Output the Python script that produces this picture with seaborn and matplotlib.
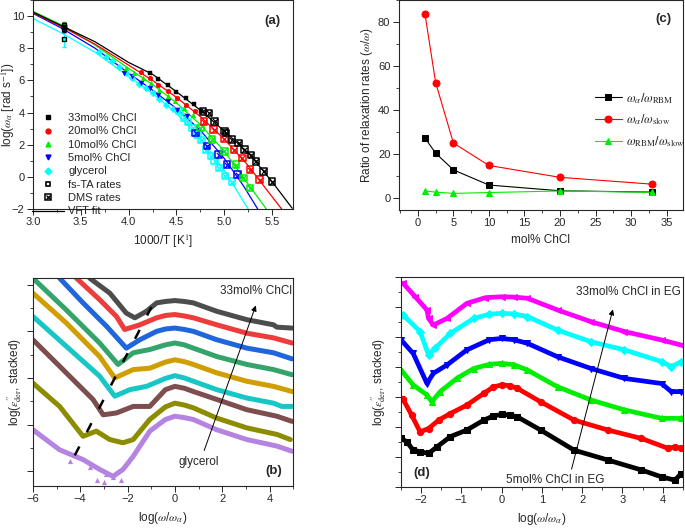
import seaborn as sns
import matplotlib.pyplot as plt
from matplotlib.lines import Line2D
from matplotlib.legend_handler import HandlerTuple
from matplotlib.ticker import MultipleLocator, NullFormatter

# ---------------- panel (a): log(omega_alpha) vs 1000/T ----------------
vft33_x = [3.0, 3.3, 3.65, 4.0, 4.25, 4.5, 4.75, 5.0, 5.25, 5.5, 5.71]
vft33_y = [10.25, 9.4, 8.4, 7.12, 6.38, 5.3, 4.15, 2.85, 1.5, -0.3, -1.95]
vft20_x = [3.0, 3.3, 3.65, 4.0, 4.25, 4.5, 4.75, 5.0, 5.25, 5.45, 5.6]
vft20_y = [10.2, 9.35, 8.25, 6.95, 6.0, 4.95, 3.75, 2.35, 0.7, -0.85, -2.0]
vft10_x = [3.0, 3.3, 3.65, 4.0, 4.25, 4.5, 4.75, 5.0, 5.25, 5.44]
vft10_y = [10.3, 9.45, 8.2, 6.75, 5.75, 4.6, 3.25, 1.6, -0.45, -2.0]
vft5_x = [3.0, 3.3, 3.65, 4.0, 4.25, 4.5, 4.75, 5.0, 5.2, 5.35]
vft5_y = [10.17, 9.25, 8.0, 6.45, 5.4, 4.25, 2.9, 1.15, -0.55, -2.0]
vftgly_x = [3.0, 3.3, 3.65, 4.0, 4.25, 4.5, 4.75, 5.0, 5.25]
vftgly_y = [9.85, 8.95, 7.75, 6.25, 5.2, 3.95, 2.4, 0.4, -2.0]

a33_x = [4.22, 4.31, 4.41, 4.50, 4.60, 4.68, 4.76]
a33_y = [6.47, 6.06, 5.70, 5.29, 4.92, 4.56, 4.08]
a20_x = [4.13, 4.22, 4.31, 4.41, 4.51, 4.60, 4.69]
a20_y = [6.53, 6.12, 5.74, 5.33, 4.92, 4.50, 4.08]
a10_x = [3.97, 4.06, 4.15, 4.23, 4.32, 4.41, 4.49, 4.58, 4.67]
a10_y = [6.78, 6.47, 6.16, 5.85, 5.43, 5.02, 4.71, 4.29, 3.88]
a5_x = [3.95, 4.04, 4.13, 4.22, 4.31, 4.41, 4.51, 4.61]
a5_y = [6.47, 6.26, 5.85, 5.54, 5.12, 4.71, 4.19, 3.77]
agly_x = [3.69, 3.76, 3.83, 3.90, 3.97, 4.04, 4.11, 4.18, 4.25, 4.32, 4.39, 4.46]
agly_y = [7.74, 7.45, 7.2, 6.85, 6.45, 6.15, 5.8, 5.5, 5.2, 4.85, 4.5, 4.2]

dms33_x = [4.78, 4.84, 4.90, 5.0, 5.02, 5.08, 5.15, 5.21, 5.28, 5.33, 5.41, 5.50]
dms33_y = [4.08, 3.98, 3.46, 2.84, 2.73, 2.32, 2.11, 1.70, 1.36, 0.97, 0.35, -0.3]
dms20_x = [4.79, 4.89, 5.0, 5.10, 5.19, 5.27, 5.37]
dms20_y = [3.43, 2.94, 2.36, 1.70, 1.18, 0.45, -0.17]
dms10_x = [4.75, 4.87, 5.0, 5.12, 5.20, 5.27]
dms10_y = [3.05, 2.32, 1.59, 0.76, -0.07, -0.69]
dms5_x = [4.70, 4.82, 4.94, 5.03, 5.14]
dms5_y = [2.74, 1.91, 1.39, 0.76, 0.14]
dmsgly_x = [4.53, 4.58, 4.62, 4.67, 4.72, 4.76, 4.81, 4.86, 4.90, 4.95, 5.01, 5.08]
dmsgly_y = [4.1, 3.7, 3.4, 3.05, 2.6, 2.3, 1.7, 1.3, 1.0, 0.55, 0.05, -0.3]

fs_x = [3.33, 3.33, 3.33, 3.33, 3.33]
fs_y = [9.3, 9.35, 9.45, 9.2, 8.6]
fs_err = [0.3, 0.2, 0.2, 0.2, 0.5]

# ---------------- panel (c): ratios ----------------
mol = [1, 2.5, 5, 10, 20, 33]
ratio_rbm = [27.3, 20.4, 12.8, 5.9, 3.3, 2.7]
ratio_slow = [83.7, 52.5, 25.0, 14.8, 9.4, 6.3]
ratio_rbm_slow = [3.2, 2.7, 2.1, 2.5, 3.2, 2.6]

# ---------------- panel (b): stacked spectra, glycerol mixtures ----------------
# top (33mol% ChCl) to bottom (glycerol)
b1_x = [-3.6, -2.75, -2.05, -1.69, -1.2, -0.77, -0.4, 0.0, 0.4, 0.78, 1.77, 3.04, 4.17, 4.31, 4.95]
b1_y = [4.14, 3.82, 3.39, 3.29, 3.43, 3.61, 3.64, 3.66, 3.64, 3.61, 3.43, 3.25, 3.14, 3.09, 3.07]
b2_x = [-4.16, -3.18, -2.47, -2.12, -1.48, -0.77, -0.4, 0.0, 0.4, 0.78, 1.77, 3.04, 4.17, 4.95]
b2_y = [4.14, 3.68, 3.32, 3.04, 3.14, 3.29, 3.34, 3.36, 3.33, 3.29, 3.14, 2.96, 2.86, 2.75]
b3_x = [-4.87, -3.88, -2.89, -2.05, -1.48, -0.77, -0.4, 0.0, 0.4, 0.78, 1.77, 3.04, 4.17, 4.95]
b3_y = [4.14, 3.61, 3.11, 2.64, 2.82, 3.0, 3.05, 3.07, 3.04, 3.0, 2.82, 2.64, 2.54, 2.41]
b4_x = [-6.0, -4.59, -3.18, -2.40, -1.76, -1.06, -0.4, 0.0, 0.4, 0.78, 1.77, 3.04, 4.17, 4.95]
b4_y = [4.14, 3.46, 2.75, 2.29, 2.54, 2.61, 2.71, 2.75, 2.71, 2.64, 2.46, 2.29, 2.18, 2.07]
b5_x = [-6.0, -4.59, -3.18, -2.54, -1.76, -1.06, -0.4, 0.0, 0.4, 0.78, 1.77, 3.04, 4.17, 4.95]
b5_y = [3.82, 3.18, 2.46, 2.0, 2.18, 2.21, 2.34, 2.39, 2.35, 2.29, 2.11, 1.93, 1.82, 1.71]
b6_x = [-6.0, -4.59, -3.18, -2.54, -1.90, -1.20, -0.4, 0.0, 0.4, 0.78, 1.77, 3.04, 4.17, 4.52, 4.95]
b6_y = [3.32, 2.68, 2.04, 1.61, 1.75, 1.82, 1.99, 2.05, 2.0, 1.93, 1.75, 1.57, 1.46, 1.39, 1.39]
b7_x = [-6.0, -4.59, -3.46, -3.03, -2.47, -1.76, -1.06, -0.4, 0.0, 0.4, 0.78, 1.77, 3.04, 4.31, 4.95]
b7_y = [2.82, 2.11, 1.54, 1.21, 1.25, 1.39, 1.39, 1.75, 1.82, 1.78, 1.71, 1.54, 1.32, 1.18, 1.07]
b8_x = [-6.0, -4.87, -3.88, -3.32, -2.75, -2.19, -1.76, -1.06, -0.4, 0.0, 0.4, 0.78, 1.77, 3.04, 4.31, 4.88]
b8_y = [1.89, 1.39, 0.75, 0.86, 0.68, 0.61, 0.68, 1.11, 1.38, 1.46, 1.42, 1.36, 1.14, 0.93, 0.79, 0.68]
b9_x = [-6.0, -4.87, -3.88, -3.18, -2.61, -2.19, -1.76, -1.06, -0.4, 0.0, 0.4, 0.78, 1.77, 3.04, 4.31, 4.95]
b9_y = [0.89, 0.46, 0.25, 0.04, -0.11, 0.04, 0.32, 0.86, 1.11, 1.18, 1.15, 1.11, 0.89, 0.68, 0.54, 0.43]
b9_noise_x = [-4.45, -3.6, -3.27, -2.9, -2.6, -2.26, -3.0]
b9_noise_y = [0.23, 0.1, -0.18, -0.05, -0.12, -0.18, -0.22]
b_colors = ['#4d4d4d', '#ee3b3b', '#1f66dd', '#35a46a', '#d09e00',
            '#18c6c6', '#7e4d4d', '#8c8c00', '#b584e0']
b_dash_x = [-4.23, -0.99]
b_dash_y = [0.34, 3.52]

# ---------------- panel (d): stacked spectra, EG mixtures ----------------
d1_x = [-2.49, -2.35, -2.19, -2.02, -1.81, -1.60, -1.27, -0.86, -0.44, -0.2, 0.0, 0.2, 0.39, 0.97, 1.80, 2.64, 3.47, 3.97, 4.30, 4.46]
d1_y = [1.61, 1.5, 1.22, 1.17, 1.11, 1.33, 1.67, 1.89, 2.22, 2.36, 2.41, 2.39, 2.33, 1.89, 1.22, 0.89, 0.56, 0.33, 0.22, 0.44]
d2_x = [-2.44, -2.23, -2.02, -1.81, -1.56, -1.27, -0.86, -0.44, -0.2, 0.0, 0.2, 0.39, 0.97, 1.80, 2.64, 3.47, 4.13, 4.30, 4.46]
d2_y = [2.91, 2.39, 1.83, 1.94, 2.22, 2.44, 2.72, 3.11, 3.33, 3.39, 3.37, 3.28, 2.83, 2.22, 1.89, 1.61, 1.28, 1.33, 1.28]
d3_x = [-2.49, -2.19, -1.85, -1.73, -1.52, -1.11, -0.69, -0.3, 0.0, 0.3, 0.64, 1.39, 2.22, 3.05, 3.97, 4.46]
d3_y = [3.89, 3.39, 3.06, 2.83, 3.17, 3.61, 3.94, 4.08, 4.11, 4.07, 3.89, 3.33, 2.89, 2.56, 2.28, 2.28]
d4_x = [-2.49, -2.19, -1.85, -1.69, -1.35, -0.86, -0.3, 0.0, 0.3, 0.64, 1.39, 2.22, 3.05, 3.97, 4.21, 4.46]
d4_y = [4.89, 4.44, 3.44, 3.78, 4.06, 4.56, 4.9, 4.94, 4.9, 4.78, 4.33, 3.94, 3.61, 3.44, 3.17, 3.17]
d5_x = [-2.44, -2.02, -1.81, -1.65, -1.27, -0.69, -0.3, 0.0, 0.3, 0.64, 1.39, 2.22, 3.05, 3.97, 4.21, 4.46]
d5_y = [5.72, 5.17, 4.39, 4.61, 5.11, 5.61, 5.75, 5.78, 5.76, 5.67, 5.22, 4.83, 4.56, 4.17, 4.0, 4.17]
d6_x = [-2.44, -2.14, -1.85, -1.81, -1.69, -1.35, -0.86, -0.4, 0.0, 0.3, 0.64, 1.39, 2.22, 3.05, 3.97, 4.46]
d6_y = [6.78, 6.33, 5.89, 5.61, 5.39, 5.61, 6.11, 6.3, 6.33, 6.32, 6.28, 5.89, 5.5, 5.17, 4.89, 4.72]
d_colors = ['#000000', '#ff0000', '#00ee00', '#0000ff', '#00ffff', '#ff00ff']
d_markers = ['s', 'o', '^', 'v', 'D', '<']

sns.set_style('ticks')
plt.rcParams['font.family'] = ['Liberation Sans', 'DejaVu Sans']
plt.rcParams['mathtext.fontset'] = 'stix'
plt.rcParams['font.size'] = 8
plt.rcParams['axes.linewidth'] = 0.8

fig = plt.figure(figsize=(6.85, 5.32), dpi=100)
ax_a = fig.add_axes([0.048, 0.607, 0.38, 0.393])
ax_c = fig.add_axes([0.582, 0.605, 0.415, 0.395])
ax_b = fig.add_axes([0.048, 0.087, 0.38, 0.391])
ax_d = fig.add_axes([0.585, 0.085, 0.412, 0.395])


def line(ax, x, y, **kw):
    sns.lineplot(x=x, y=y, ax=ax, sort=False, estimator=None, legend=False, **kw)


def style(ax, fs=8):
    for s in ax.spines.values():
        s.set_visible(True)
        s.set_linewidth(0.8)
    ax.tick_params(labelsize=fs, length=4, width=0.7, direction='out', pad=2)
    ax.tick_params(which='minor', length=2, width=0.6, direction='out')


# ---- (a)
cols_a = ['#000000', '#ff0000', '#00ee00', '#0000ff', '#00ffff']
mk_a = ['s', 'o', '^', 'v', 'D']
vx = [vft33_x, vft20_x, vft10_x, vft5_x, vftgly_x]
vy = [vft33_y, vft20_y, vft10_y, vft5_y, vftgly_y]
sx = [a33_x, a20_x, a10_x, a5_x, agly_x]
sy = [a33_y, a20_y, a10_y, a5_y, agly_y]
dx = [dms33_x, dms20_x, dms10_x, dms5_x, dmsgly_x]
dy = [dms33_y, dms20_y, dms10_y, dms5_y, dmsgly_y]
for i in range(5)[::-1]:
    line(ax_a, vx[i], vy[i], color=cols_a[i], lw=0.9)
    sns.scatterplot(x=sx[i], y=sy[i], ax=ax_a, marker=mk_a[i], color=cols_a[i], s=12,
                    edgecolor=cols_a[i], linewidth=0.3, legend=False, zorder=3)
    sns.scatterplot(x=dx[i], y=dy[i], ax=ax_a, marker='s', s=22, facecolor='none',
                    edgecolor=cols_a[i], linewidth=1.1, legend=False, zorder=3)
    sns.scatterplot(x=dx[i], y=dy[i], ax=ax_a, marker='x', s=14, color=cols_a[i],
                    linewidth=0.9, legend=False, zorder=3)
    ax_a.errorbar(fs_x[i], fs_y[i], yerr=fs_err[i], fmt='s', ms=3, color=cols_a[i],
                  mfc=cols_a[i], mec='k', elinewidth=0.8, capsize=1.5, zorder=4)
ax_a.set_xlim(3.0, 5.72)
ax_a.set_ylim(-2, 11)
ax_a.xaxis.set_major_locator(MultipleLocator(0.5))
ax_a.xaxis.set_minor_locator(MultipleLocator(0.25))
ax_a.yaxis.set_major_locator(MultipleLocator(2))
ax_a.yaxis.set_minor_locator(MultipleLocator(1))
ax_a.xaxis.set_major_formatter(plt.FormatStrFormatter('%.1f'))
ax_a.set_xlabel('1000/T [K$^{1}$]', fontsize=8.5)
ax_a.set_ylabel('log($\\omega_\\alpha$ [rad s$^{-1}$])', fontsize=8.5)
ax_a.yaxis.set_label_coords(-0.062, 0.5)
style(ax_a)
ax_a.text(0.92, 0.9, '(a)', transform=ax_a.transAxes, fontsize=9.5, fontweight='bold', ha='center', va='center')
handles = [Line2D([], [], ls='none', marker=m, color=c, ms=3.5) for m, c in zip(mk_a, cols_a)]
handles += [Line2D([], [], ls='none', marker='s', mfc='white', mec='k', mew=1.2, ms=3.5),
            (Line2D([], [], ls='none', marker='s', mfc='none', mec='k', mew=1.1, ms=4.5),
             Line2D([], [], ls='none', marker='x', color='k', mew=0.9, ms=3.5)),
            Line2D([], [], color='k', lw=0.9)]
labels = ['33mol% ChCl', '20mol% ChCl', '10mol% ChCl', '5mol% ChCl', 'glycerol',
          'fs-TA rates', 'DMS rates', 'VFT fit']
ax_a.legend(handles, labels, loc='lower left', bbox_to_anchor=(-0.005, -0.035), frameon=False,
            fontsize=8, handlelength=2.9, handletextpad=0.4, labelspacing=0.3,
            borderaxespad=0, borderpad=0, handler_map={tuple: HandlerTuple(ndivide=1)})

# ---- (c)
line(ax_c, mol, ratio_rbm, color='k', lw=0.8, marker='s', markersize=4.5, mec='k',
     label='$\\omega_\\alpha$/$\\omega_{\\rm RBM}$')
line(ax_c, mol, ratio_slow, color='#ff0000', lw=0.8, marker='o', markersize=5, mec='#ff0000',
     label='$\\omega_\\alpha$/$\\omega_{\\rm slow}$')
line(ax_c, mol, ratio_rbm_slow, color='#00ee00', lw=0.8, marker='^', markersize=5, mec='#00ee00',
     label='$\\omega_{\\rm RBM}$/$\\omega_{\\rm slow}$')
ax_c.set_xlim(-2.7, 37.3)
ax_c.set_ylim(-5.5, 90)
ax_c.xaxis.set_major_locator(MultipleLocator(5))
ax_c.xaxis.set_minor_locator(MultipleLocator(2.5))
ax_c.yaxis.set_major_locator(MultipleLocator(20))
ax_c.yaxis.set_minor_locator(MultipleLocator(10))
ax_c.set_xlabel('mol% ChCl', fontsize=8.5)
ax_c.set_ylabel('Ratio of relaxation rates ($\\omega$/$\\omega$)', fontsize=8.5)
ax_c.yaxis.set_label_coords(-0.085, 0.5)
style(ax_c)
ax_c.text(0.93, 0.91, '(c)', transform=ax_c.transAxes, fontsize=9.5, fontweight='bold', ha='center', va='center')
ax_c.legend(loc='center left', bbox_to_anchor=(0.65, 0.43), frameon=False, fontsize=9,
            handlelength=2.2, handletextpad=0.3, labelspacing=0.55)

# ---- (b)
bx = [b1_x, b2_x, b3_x, b4_x, b5_x, b6_x, b7_x, b8_x, b9_x]
by = [b1_y, b2_y, b3_y, b4_y, b5_y, b6_y, b7_y, b8_y, b9_y]
for i in range(9):
    line(ax_b, bx[i], by[i], color=b_colors[i], lw=3.6, solid_joinstyle='round')
sns.scatterplot(x=b9_noise_x, y=b9_noise_y, ax=ax_b, color=b_colors[8], marker='^', s=14,
                linewidth=0, legend=False)
line(ax_b, b_dash_x, b_dash_y, color='k', lw=1.8, linestyle=(0, (4, 6.5)))
ax_b.annotate('', xy=(3.46, 3.61), xytext=(1.2, 0.39),
              arrowprops=dict(arrowstyle='-|>', color='k', lw=0.7, mutation_scale=8))
ax_b.text(4.95, 3.86, '33mol% ChCl', ha='right', va='center', fontsize=8.5)
ax_b.text(1.02, 0.2, 'glycerol', ha='center', va='center', fontsize=8.5)
ax_b.text(0.924, 0.07, '(b)', transform=ax_b.transAxes, fontsize=9.5, fontweight='bold', ha='center', va='center')
ax_b.set_xlim(-6, 5)
ax_b.set_ylim(-0.31, 4.15)
ax_b.xaxis.set_major_locator(MultipleLocator(2))
ax_b.xaxis.set_minor_locator(MultipleLocator(1))
ax_b.yaxis.set_major_locator(MultipleLocator(1))
ax_b.yaxis.set_minor_locator(MultipleLocator(0.5))
ax_b.yaxis.set_major_formatter(NullFormatter())
ax_b.set_xlabel('log($\\omega$/$\\omega_\\alpha$)', fontsize=8.5)
ax_b.set_ylabel('log($\\varepsilon^{\\prime\\prime}_{\\rm der}$, stacked)', fontsize=8.5)
ax_b.yaxis.set_label_coords(-0.035, 0.5)
style(ax_b)

# ---- (d)
ddx = [d1_x, d2_x, d3_x, d4_x, d5_x, d6_x]
ddy = [d1_y, d2_y, d3_y, d4_y, d5_y, d6_y]
for i in range(6):
    line(ax_d, ddx[i], ddy[i], color=d_colors[i], lw=3.4, marker=d_markers[i], markersize=4.5,
         mec=d_colors[i], solid_joinstyle='round')
ax_d.annotate('', xy=(2.78, 6.0), xytext=(1.72, 0.5),
              arrowprops=dict(arrowstyle='-|>', color='k', lw=0.7, mutation_scale=8))
ax_d.text(4.46, 6.5, '33mol% ChCl in EG', ha='right', va='center', fontsize=8.5)
ax_d.text(0.1, 0.22, '5mol% ChCl in EG', ha='left', va='center', fontsize=8.5)
ax_d.text(0.073, 0.065, '(d)', transform=ax_d.transAxes, fontsize=9.5, fontweight='bold', ha='center', va='center')
ax_d.set_xlim(-2.5, 4.5)
ax_d.set_ylim(0, 7)
ax_d.xaxis.set_major_locator(MultipleLocator(1))
ax_d.xaxis.set_minor_locator(MultipleLocator(0.5))
ax_d.yaxis.set_major_locator(MultipleLocator(1))
ax_d.yaxis.set_minor_locator(MultipleLocator(0.5))
ax_d.yaxis.set_major_formatter(NullFormatter())
ax_d.set_xlabel('log($\\omega$/$\\omega_\\alpha$)', fontsize=8.5)
ax_d.set_ylabel('log($\\varepsilon^{\\prime\\prime}_{\\rm der}$, stacked)', fontsize=8.5)
ax_d.yaxis.set_label_coords(-0.046, 0.5)
style(ax_d)

fig.savefig('out.png', dpi=100)
